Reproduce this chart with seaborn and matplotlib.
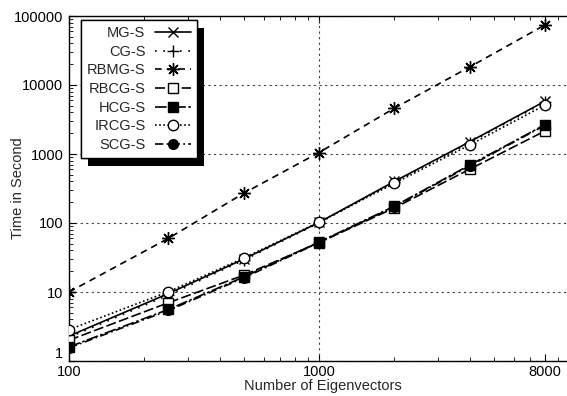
import numpy as np
import pandas as pd
import matplotlib
matplotlib.use("Agg")
import matplotlib.pyplot as plt
import matplotlib.patheffects as pe
import seaborn as sns

# eigenvector counts and timings (seconds)
n_eig = [100, 250, 500, 1000, 2000, 4000, 8000]
mg_s = [2.3, 9.5, 30, 102, 400, 1500, 5800]
cg_s = [2.2, 9.0, 29, 100, 390, 1450, 5600]
rbmg_s = [10, 60, 270, 1050, 4600, 18200, 74000]
rbcg_s = [2.0, 7.0, 17.5, 52, 165, 600, 2150]
hcg_s = [1.6, 5.6, 16.5, 53, 175, 690, 2650]
ircg_s = [2.85, 10.1, 31, 103, 375, 1350, 5100]
scg_s = [1.55, 5.4, 16, 52, 172, 670, 2600]

methods = ['MG-S', 'CG-S', 'RBMG-S', 'RBCG-S', 'HCG-S', 'IRCG-S', 'SCG-S']
values = [mg_s, cg_s, rbmg_s, rbcg_s, hcg_s, ircg_s, scg_s]

df = pd.DataFrame({
    'n': n_eig * len(methods),
    'time': [v for vals in values for v in vals],
    'method': [m for m in methods for _ in n_eig],
})

styles = {
    'MG-S': dict(marker='x', mfc='black', ls='-', ms=7),
    'CG-S': dict(marker='+', mfc='black', ls=(0, (1, 4)), ms=8),
    'RBMG-S': dict(marker=(8, 2, 0), mfc='black', ls=(0, (4, 3)), ms=9),
    'RBCG-S': dict(marker='s', mfc='white', ls=(0, (6, 2)), ms=7),
    'HCG-S': dict(marker='s', mfc='black', ls=(0, (7, 1.5, 1.5, 1.5)), ms=7),
    'IRCG-S': dict(marker='o', mfc='white', ls=(0, (1, 1.5)), ms=7.5),
    'SCG-S': dict(marker='o', mfc='black', ls=(0, (5, 2, 1, 2)), ms=7),
}
draw_order = ['MG-S', 'CG-S', 'RBMG-S', 'RBCG-S', 'SCG-S', 'HCG-S', 'IRCG-S']

sns.set_style('ticks')
plt.rcParams['font.family'] = ['Liberation Sans', 'DejaVu Sans']
plt.rcParams['font.size'] = 10.5

fig = plt.figure(figsize=(5.67, 3.96), dpi=100)
ax = fig.add_axes([69 / 567, 1 - 361 / 396, (567 - 69) / 567, (361 - 16) / 396])

handles = {}
for m in draw_order:
    st = styles[m]
    sub = df[df['method'] == m]
    sns.lineplot(data=sub, x='n', y='time', ax=ax, color='black', linewidth=1.2,
                 linestyle=st['ls'], marker=st['marker'], markersize=st['ms'],
                 markerfacecolor=st['mfc'], markeredgecolor='black',
                 markeredgewidth=1.0, label=m, legend=False, zorder=3)
    handles[m] = ax.lines[-1]

ax.set_xscale('log')
ax.set_yscale('log')
ax.set_xlim(100, 9817)
ax.set_ylim(1, 100000)

ax.set_xticks([100, 1000, 8000])
ax.set_xticklabels(['100', '1000', '8000'])
ax.set_yticks([1, 10, 100, 1000, 10000, 100000])
ax.set_yticklabels(['1', '10', '100', '1000', '10000', '100000'])
ax.get_yticklabels()[0].set_va('bottom')

ax.tick_params(which='both', direction='in', top=True, right=False, colors='black',
               labelsize=10.5)
ax.tick_params(which='major', length=5, width=0.8, pad=4)
ax.tick_params(which='minor', length=3, width=0.6)
ax.tick_params(axis='x', which='major', pad=3)

ax.spines['right'].set_visible(False)
for s in ['left', 'bottom', 'top']:
    ax.spines[s].set_linewidth(1.0)
    ax.spines[s].set_color('black')

ax.set_axisbelow(True)
ax.yaxis.grid(True, which='major', linestyle=(0, (2, 3)), color='0.25', linewidth=0.8)
ax.xaxis.grid(False)
ax.axvline(1000, linestyle=(0, (2, 3)), color='0.25', linewidth=0.8, zorder=1)

ax.set_xlabel('Number of Eigenvectors', fontsize=10.5)
ax.set_ylabel('Time in Second', fontsize=10.5)
ax.xaxis.set_label_coords(0.51, -0.053)
ax.yaxis.set_label_coords(-0.088, 0.5)

leg = ax.legend([handles[m] for m in methods], methods, loc='upper left',
                bbox_to_anchor=(0.024, 0.988), borderaxespad=0, markerfirst=False,
                fancybox=False, framealpha=1, edgecolor='black', fontsize=10.5,
                handlelength=2.5, handletextpad=0.65, labelspacing=0.32,
                borderpad=0.4)
leg.get_frame().set_linewidth(1.0)
leg.get_frame().set_path_effects([pe.withSimplePatchShadow(offset=(5, -6),
                                  shadow_rgbFace='black', alpha=1.0), pe.Normal()])

fig.savefig('out.png', dpi=100)
